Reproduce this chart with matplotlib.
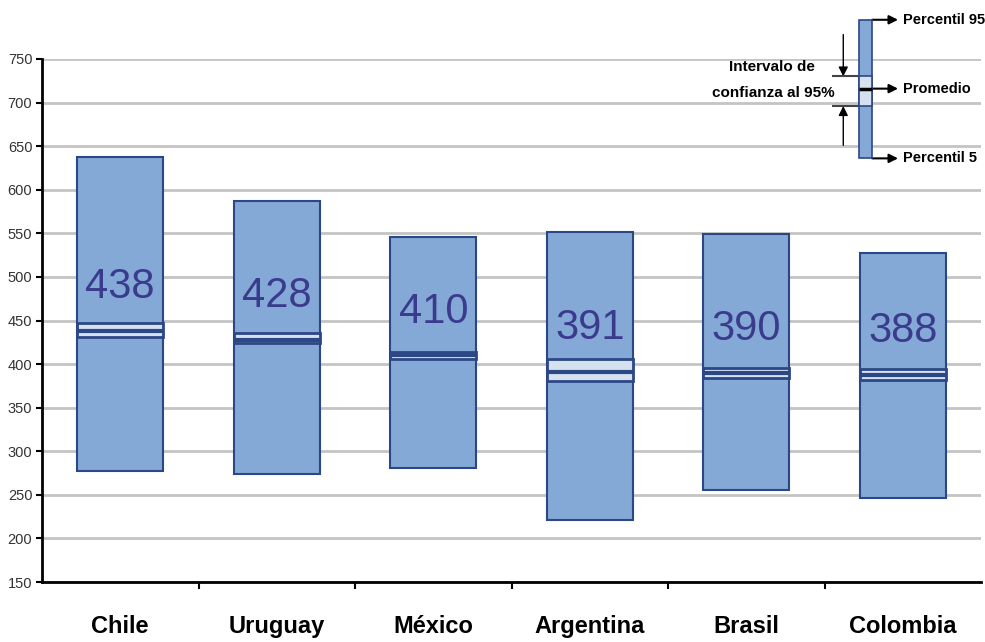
import numpy as np
import matplotlib
matplotlib.use('Agg')
import matplotlib.pyplot as plt

# 数据：各国的百分位 5 / 95、平均值及 95% 置信区间
paises = ['Chile', 'Uruguay', 'México', 'Argentina', 'Brasil', 'Colombia']
promedio = [438, 428, 410, 391, 390, 388]
percentil_5 = [277, 274, 281, 221, 256, 246]
percentil_95 = [637, 587, 546, 551, 549, 527]
ic_inferior = [431, 424, 406, 381, 384, 382]
ic_superior = [447, 436, 414, 406, 396, 394]
yticks = [150, 200, 250, 300, 350, 400, 450, 500, 550, 600, 650, 700, 750]

# 图例中的示意柱
leyenda_p5, leyenda_p95 = 636, 795
leyenda_ic = (696, 730)
leyenda_prom = 716

fuente = ['Liberation Sans', 'DejaVu Sans']
relleno = '#84a9d6'
borde = '#2c4786'
claro = '#d6e1f0'
texto_num = '#3b3b8e'

fig = plt.figure(figsize=(9.85, 6.42), dpi=100)
ax = fig.add_axes([42/985, 60/642, 939/985, 523/642])

x = np.arange(len(paises))
w = 0.55
p5 = np.array(percentil_5)
p95 = np.array(percentil_95)
lo = np.array(ic_inferior)
hi = np.array(ic_superior)

ax.bar(x, p95 - p5, bottom=p5, width=w, color=relleno, edgecolor=borde, linewidth=1.5, zorder=2)
ax.bar(x, hi - lo, bottom=lo, width=w, color=claro, edgecolor=borde, linewidth=2, zorder=3)
ax.hlines(promedio, x - w/2, x + w/2, color=borde, linewidth=3, zorder=4)

for xi, m in zip(x, promedio):
    ax.text(xi, m + 50, str(m), ha='center', va='center', fontsize=30,
            color=texto_num, family=fuente, zorder=5)

# 坐标轴
ax.set_xlim(-0.5, 5.5)
ax.set_ylim(150, 750)
ax.set_yticks(yticks)
ax.set_yticklabels([str(v) for v in yticks], family=fuente, fontsize=10.5, color='#333333')
ax.set_xticks(x)
ax.set_xticklabels(paises, family=fuente, fontsize=17, fontweight='bold')
ax.set_xticks(x[:-1] + 0.5, minor=True)
ax.tick_params(axis='x', which='major', length=0, pad=24)
ax.tick_params(axis='x', which='minor', length=5, width=1.5, direction='out')
ax.tick_params(axis='y', length=4, width=1.5, direction='out', pad=3)
ax.yaxis.grid(True, color='#c4c4c4', linewidth=2)
ax.set_axisbelow(True)
for s in ['top', 'right']:
    ax.spines[s].set_visible(False)
for s in ['left', 'bottom']:
    ax.spines[s].set_linewidth(2)
    ax.spines[s].set_color('black')

# 图例（示意柱 + 箭头）
lx, lw_ = 4.763, 0.083
ax.bar(lx, leyenda_p95 - leyenda_p5, bottom=leyenda_p5, width=lw_, color=relleno,
       edgecolor=borde, linewidth=1.2, zorder=6, clip_on=False)
ax.bar(lx, leyenda_ic[1] - leyenda_ic[0], bottom=leyenda_ic[0], width=lw_, color=claro,
       edgecolor=borde, linewidth=1.2, zorder=7, clip_on=False)
ax.hlines(leyenda_prom, lx - lw_/2, lx + lw_/2, color='black', linewidth=2.5, zorder=8, clip_on=False)

flecha = dict(arrowstyle='-|>', color='black', lw=1.5, mutation_scale=13, shrinkA=0, shrinkB=0)
for yv, lab in [(leyenda_p95, 'Percentil 95'), (leyenda_prom, 'Promedio'), (leyenda_p5, 'Percentil 5')]:
    ax.annotate('', xy=(4.97, yv), xytext=(lx + lw_/2, yv), arrowprops=flecha, annotation_clip=False)
    ax.text(5.0, yv, lab, ha='left', va='center', fontsize=10.5, fontweight='bold',
            family=fuente, clip_on=False)

ax.hlines(leyenda_ic, 4.55, lx, color='#444444', linewidth=1.5, zorder=5, clip_on=False)
flecha2 = dict(arrowstyle='-|>', color='black', lw=1, mutation_scale=14, shrinkA=0, shrinkB=0)
ax.annotate('', xy=(4.62, leyenda_ic[1]), xytext=(4.62, 778), arrowprops=flecha2, annotation_clip=False)
ax.annotate('', xy=(4.62, leyenda_ic[0]), xytext=(4.62, 651), arrowprops=flecha2, annotation_clip=False)
ax.text(4.165, 741, 'Intervalo de', ha='center', va='center', fontsize=11,
        fontweight='bold', family=fuente)
ax.text(4.17, 711, 'confianza al 95%', ha='center', va='center', fontsize=11,
        fontweight='bold', family=fuente)

fig.savefig('out.png', dpi=100)
